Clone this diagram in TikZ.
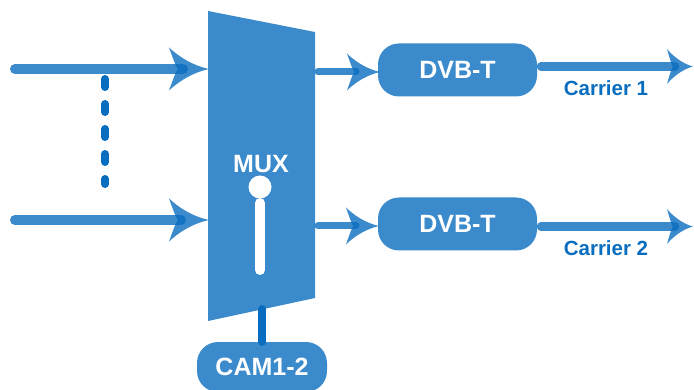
\documentclass[tikz,border=0pt]{standalone}
\usepackage{fontspec}
\setmainfont{Liberation Sans}
\definecolor{base}{RGB}{9,109,191}
\tikzset{
  pics/ahead/.style 2 args={code={
    \fill[base, fill opacity=0.8] (0,0)
      .. controls (-0.4*#1,-0.08*#2) and (-0.75*#1,-0.28*#2) .. (-#1,-0.5*#2)
      .. controls (-0.92*#1,-0.3*#2) and (-0.85*#1,-0.1*#2) .. (-0.78*#1,0)
      .. controls (-0.85*#1,0.1*#2) and (-0.92*#1,0.3*#2) .. (-#1,0.5*#2)
      .. controls (-0.75*#1,0.28*#2) and (-0.4*#1,0.08*#2) .. (0,0) -- cycle;}},
  feed/.style={draw=base, draw opacity=0.8, line width=#1, line cap=round},
  dvbbox/.style={fill=base, fill opacity=0.8, text opacity=1, text=white,
    rounded corners=21pt, minimum width=159pt, minimum height=53pt, inner sep=0pt,
    font=\fontsize{25}{30}\selectfont\bfseries},
  carrier/.style={text=base, inner sep=0pt, font=\fontsize{20.5}{24}\selectfont\bfseries},
  whitelabel/.style={text=white, inner sep=0pt, font=\fontsize{25}{30}\selectfont\bfseries},
  darkline/.style={draw=base, line width=8pt, line cap=round}
}
\begin{document}
\begin{tikzpicture}[x=1pt,y=-1pt]
\useasboundingbox (0,0) rectangle (694,390);
% multiplexer body
\fill[base, fill opacity=0.8] (208,11) -- (315,32) -- (315,298) -- (208,321) -- cycle;
\node[whitelabel] (mux) at (261,164) {MUX};
\fill[white] (260,187) circle (11.5);
\draw[white, line width=10pt, line cap=round] (260,203) -- (260,270);
% boxes
\node[dvbbox] (dvb1) at (457.5,70) {DVB-T};
\node[dvbbox] (dvb2) at (457.5,224) {DVB-T};
\node[dvbbox, minimum width=130pt, minimum height=50pt] (cam) at (262,367) {CAM1-2};
\node[carrier] (c1) at (606,88) {Carrier 1};
\node[carrier] (c2) at (606,248) {Carrier 2};
% coordinates
\coordinate (i1s) at (15,69);   \coordinate (i1e) at (183,69);  \coordinate (i1t) at (209,69);
\coordinate (i2s) at (15,220);  \coordinate (i2e) at (181,220); \coordinate (i2t) at (209,220);
\coordinate (m1s) at (318,72);  \coordinate (m1e) at (356,72);  \coordinate (m1t) at (380,72);
\coordinate (m2s) at (318,226); \coordinate (m2e) at (356,226); \coordinate (m2t) at (379,226);
\coordinate (o1s) at (541,66.5);  \coordinate (o1e) at (675,66.5);  \coordinate (o1t) at (693,66.5);
\coordinate (o2s) at (541,226.5); \coordinate (o2e) at (675,226.5); \coordinate (o2t) at (693,226.5);
\coordinate (d1) at (105,79); \coordinate (d2) at (105,184);
\coordinate (mb) at (262,309);
% inputs
\draw[feed=10pt] (i1s) -- (i1e);
\pic at (i1t) {ahead={40}{43}};
\draw[feed=10pt] (i2s) -- (i2e);
\pic at (i2t) {ahead={40}{43}};
\draw[darkline, dash pattern=on 8pt off 17pt] (d1) -- (d2);
% mux to modulators
\draw[feed=7pt] (m1s) -- (m1e);
\pic at (m1t) {ahead={33}{37}};
\draw[feed=7pt] (m2s) -- (m2e);
\pic at (m2t) {ahead={33}{37}};
% outputs
\draw[feed=8.5pt] (o1s) -- (o1e);
\pic at (o1t) {ahead={26}{35}};
\draw[feed=8.5pt] (o2s) -- (o2e);
\pic at (o2t) {ahead={26}{35}};
% CAM link
\draw[darkline] (mb) -- (cam.north);
\end{tikzpicture}
\end{document}
